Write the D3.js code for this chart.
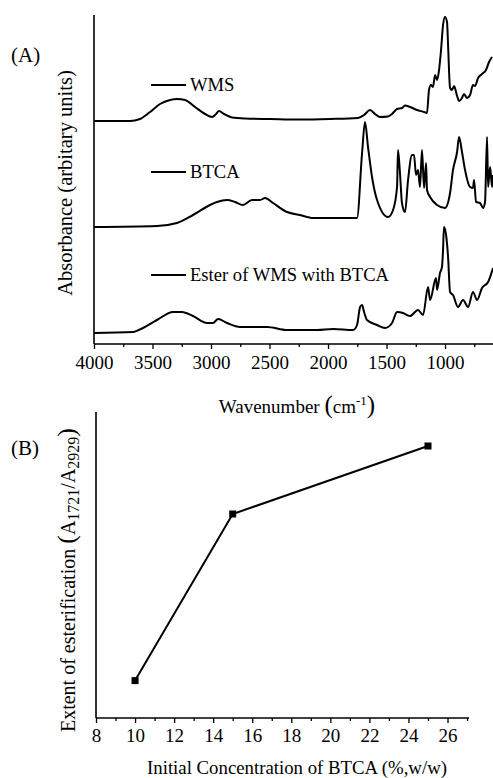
<!DOCTYPE html>
<html>
<head>
<meta charset="utf-8">
<script src="https://cdn.jsdelivr.net/npm/d3@7/dist/d3.min.js"></script>
<style>
  body { margin: 0; background: #fff; }
  svg { display: block; }
  text { font-family: "Liberation Serif", "Times New Roman", serif; fill: #000; }
</style>
</head>
<body>
<svg id="chart" width="493" height="778"></svg>
<script>
// ---- panel A : FTIR spectra ----
const seriesNames = ['WMS', 'BTCA', 'Ester of WMS with BTCA']
const seriesOffsets = [2.23, 1.17, 0.11]

const wmsWn = [4000,3692,3607,3521,3436,3350,3291,3222,3137,3051,2991,2957,2932,2889,2821,2709,2496,2239,1983,1744,1692,1641,1598,1556,1487,1453,1410,1368,1342,1299,1239,1179,1154,1137,1120,1103,1085,1068,1051,1034,1017,1000,983,974,957,940,923,897,880,855,838,812,786,761,744,718,684,650,624,598]
const wmsAbs = [0,0,0.02,0.09,0.17,0.21,0.22,0.21,0.14,0.07,0.04,0.07,0.10,0.07,0.035,0.025,0.02,0.015,0.02,0.03,0.06,0.11,0.07,0.04,0.045,0.07,0.12,0.13,0.155,0.14,0.11,0.09,0.08,0.31,0.36,0.34,0.46,0.41,0.51,0.71,0.96,1.04,0.99,0.76,0.33,0.31,0.35,0.25,0.20,0.23,0.27,0.23,0.26,0.36,0.35,0.43,0.47,0.51,0.59,0.64]

const btcaWn = [4000,3462,3291,3154,3009,2949,2863,2795,2727,2650,2581,2538,2470,2350,2239,2128,1957,1752,1709,1684,1658,1624,1581,1487,1444,1410,1402,1385,1368,1342,1316,1282,1265,1248,1231,1214,1197,1179,1162,1154,1128,1068,1000,957,932,897,880,855,829,786,761,752,735,701,675,658,641,632,615,598,590]
const btcaAbs = [0,0.01,0.04,0.12,0.22,0.25,0.27,0.25,0.22,0.27,0.27,0.29,0.24,0.15,0.12,0.09,0.09,0.09,0.74,1.05,0.80,0.50,0.27,0.10,0.17,0.40,0.77,0.54,0.24,0.15,0.47,0.72,0.72,0.52,0.57,0.40,0.77,0.39,0.64,0.37,0.30,0.22,0.19,0.34,0.57,0.75,0.90,0.75,0.57,0.40,0.39,0.47,0.25,0.24,0.19,0.25,0.90,0.40,0.60,0.40,0.52]

const esterWn = [4000,3667,3581,3462,3325,3248,3154,3034,2983,2940,2863,2752,2521,2350,2094,1957,1786,1752,1726,1709,1692,1667,1581,1513,1453,1410,1359,1325,1299,1231,1188,1145,1128,1077,1068,1043,1026,1017,1009,991,974,957,932,889,846,803,761,726,684,632,590]
const esterAbs = [0,0.01,0.05,0.13,0.21,0.21,0.17,0.10,0.10,0.14,0.10,0.06,0.06,0.03,0.03,0.04,0.03,0.08,0.26,0.28,0.21,0.13,0.08,0.05,0.10,0.21,0.20,0.18,0.17,0.23,0.18,0.46,0.33,0.55,0.43,0.60,0.66,0.83,1.06,0.98,0.76,0.41,0.38,0.26,0.33,0.26,0.41,0.33,0.45,0.51,0.65]

const wnTicks = [4000, 3500, 3000, 2500, 2000, 1500, 1000]

// ---- panel B : extent of esterification ----
const btcaConc = [10, 15, 25]
const esterExtent = [0.31, 0.80, 1.00]
const concTicks = [8, 10, 12, 14, 16, 18, 20, 22, 24, 26]

const svg = d3.select('#chart')

// ================= panel A =================
const xA = d3.scaleLinear().domain([4000, 590]).range([94, 493])
const yA = d3.scaleLinear().domain([0, 3.29]).range([344, 15])

const gA = svg.append('g')

const spectra = [
  { name: seriesNames[0], off: seriesOffsets[0], wn: wmsWn, a: wmsAbs },
  { name: seriesNames[1], off: seriesOffsets[1], wn: btcaWn, a: btcaAbs },
  { name: seriesNames[2], off: seriesOffsets[2], wn: esterWn, a: esterAbs }
]

const lineA = d3.line()
  .x(d => xA(d[0]))
  .y(d => yA(d[1]))
  .curve(d3.curveMonotoneX)

spectra.forEach(s => {
  const pts = s.wn.map((w, i) => [w, s.a[i] + s.off])
  gA.append('path')
    .datum(pts)
    .attr('fill', 'none')
    .attr('stroke', '#000')
    .attr('stroke-width', 2)
    .attr('stroke-linejoin', 'round')
    .attr('d', lineA)
})

// axes
const xAxisA = d3.axisBottom(xA)
  .tickValues(d3.range(4000, 589, -250))
  .tickSize(0)
  .tickFormat('')
const axA = gA.append('g').attr('transform', 'translate(0,344)').call(xAxisA)
axA.select('.domain').remove()
axA.append('line').attr('x1', 94).attr('x2', 493).attr('stroke', '#000').attr('stroke-width', 1.6)
axA.selectAll('.tick line')
  .attr('stroke', '#000')
  .attr('stroke-width', 1.3)
  .attr('y2', d => wnTicks.includes(d) ? 5 : 3)
axA.selectAll('.tick')
  .filter(d => wnTicks.includes(d))
  .append('text')
  .attr('y', 25)
  .attr('text-anchor', 'middle')
  .attr('font-size', 19)
  .text(d => d)

gA.append('line')
  .attr('x1', 94).attr('x2', 94)
  .attr('y1', yA.range()[1]).attr('y2', 344)
  .attr('stroke', '#000').attr('stroke-width', 1.6)

// legends
const legendY = [85, 172, 275]
spectra.forEach((s, i) => {
  gA.append('line')
    .attr('x1', 151).attr('x2', 186)
    .attr('y1', legendY[i]).attr('y2', legendY[i])
    .attr('stroke', '#000').attr('stroke-width', 2)
  gA.append('text')
    .attr('x', 190).attr('y', legendY[i] + 6)
    .attr('font-size', 18.6)
    .text(s.name)
})

// labels
const xLabA = gA.append('text')
  .attr('x', 297).attr('y', 413)
  .attr('text-anchor', 'middle')
  .attr('font-size', 19)
xLabA.append('tspan').text('Wavenumber ')
xLabA.append('tspan').attr('font-size', 25).text('(')
xLabA.append('tspan').text('cm')
xLabA.append('tspan').attr('font-size', 13).attr('dy', -8).text('-1')
xLabA.append('tspan').attr('font-size', 25).attr('dy', 8).text(')')

gA.append('text')
  .attr('transform', 'translate(72,183) rotate(-90)')
  .attr('text-anchor', 'middle')
  .attr('font-size', 20.5)
  .text('Absorbance (arbitary units)')

gA.append('text')
  .attr('x', 11).attr('y', 62)
  .attr('font-size', 21)
  .text('(A)')

// ================= panel B =================
const xB = d3.scaleLinear().domain([8, 27.1]).range([96, 469])
const yB = d3.scaleLinear().domain([0.2, 1.1]).range([718, 412])

const gB = svg.append('g')

const xAxisB = d3.axisBottom(xB)
  .tickValues(d3.range(8, 27.01, 1))
  .tickSize(0)
  .tickFormat('')
const axB = gB.append('g').attr('transform', 'translate(0,718)').call(xAxisB)
axB.select('.domain').remove()
axB.append('line').attr('x1', 96).attr('x2', 469).attr('stroke', '#000').attr('stroke-width', 1.6)
axB.selectAll('.tick line')
  .attr('stroke', '#000')
  .attr('stroke-width', 1.3)
  .attr('y2', d => d % 2 === 0 ? 5 : 3)
axB.selectAll('.tick')
  .filter(d => concTicks.includes(d))
  .append('text')
  .attr('y', 24)
  .attr('text-anchor', 'middle')
  .attr('font-size', 19)
  .text(d => d)

gB.append('line')
  .attr('x1', 96).attr('x2', 96)
  .attr('y1', 412).attr('y2', 718)
  .attr('stroke', '#000').attr('stroke-width', 1.6)

const ptsB = btcaConc.map((c, i) => [c, esterExtent[i]])
gB.append('path')
  .datum(ptsB)
  .attr('fill', 'none')
  .attr('stroke', '#000')
  .attr('stroke-width', 2)
  .attr('d', d3.line().x(d => xB(d[0])).y(d => yB(d[1])))

gB.selectAll('rect.pt')
  .data(ptsB)
  .join('rect')
  .attr('class', 'pt')
  .attr('x', d => xB(d[0]) - 3.5)
  .attr('y', d => yB(d[1]) - 3.5)
  .attr('width', 7).attr('height', 7)
  .attr('fill', '#000')

gB.append('text')
  .attr('x', 297).attr('y', 774)
  .attr('text-anchor', 'middle')
  .attr('font-size', 18.8)
  .text('Initial Concentration of BTCA (%,w/w)')

const yLabB = gB.append('text')
  .attr('transform', 'translate(75,580) rotate(-90)')
  .attr('text-anchor', 'middle')
  .attr('font-size', 20)
yLabB.append('tspan').text('Extent of esterification ')
yLabB.append('tspan').attr('font-size', 26).text('(')
yLabB.append('tspan').text('A')
yLabB.append('tspan').attr('font-size', 16).attr('dy', 4).text('1721')
yLabB.append('tspan').attr('dy', -4).text('/A')
yLabB.append('tspan').attr('font-size', 16).attr('dy', 4).text('2929')
yLabB.append('tspan').attr('font-size', 26).attr('dy', -4).text(')')

gB.append('text')
  .attr('x', 11).attr('y', 455)
  .attr('font-size', 21)
  .text('(B)')
</script>
</body>
</html>
